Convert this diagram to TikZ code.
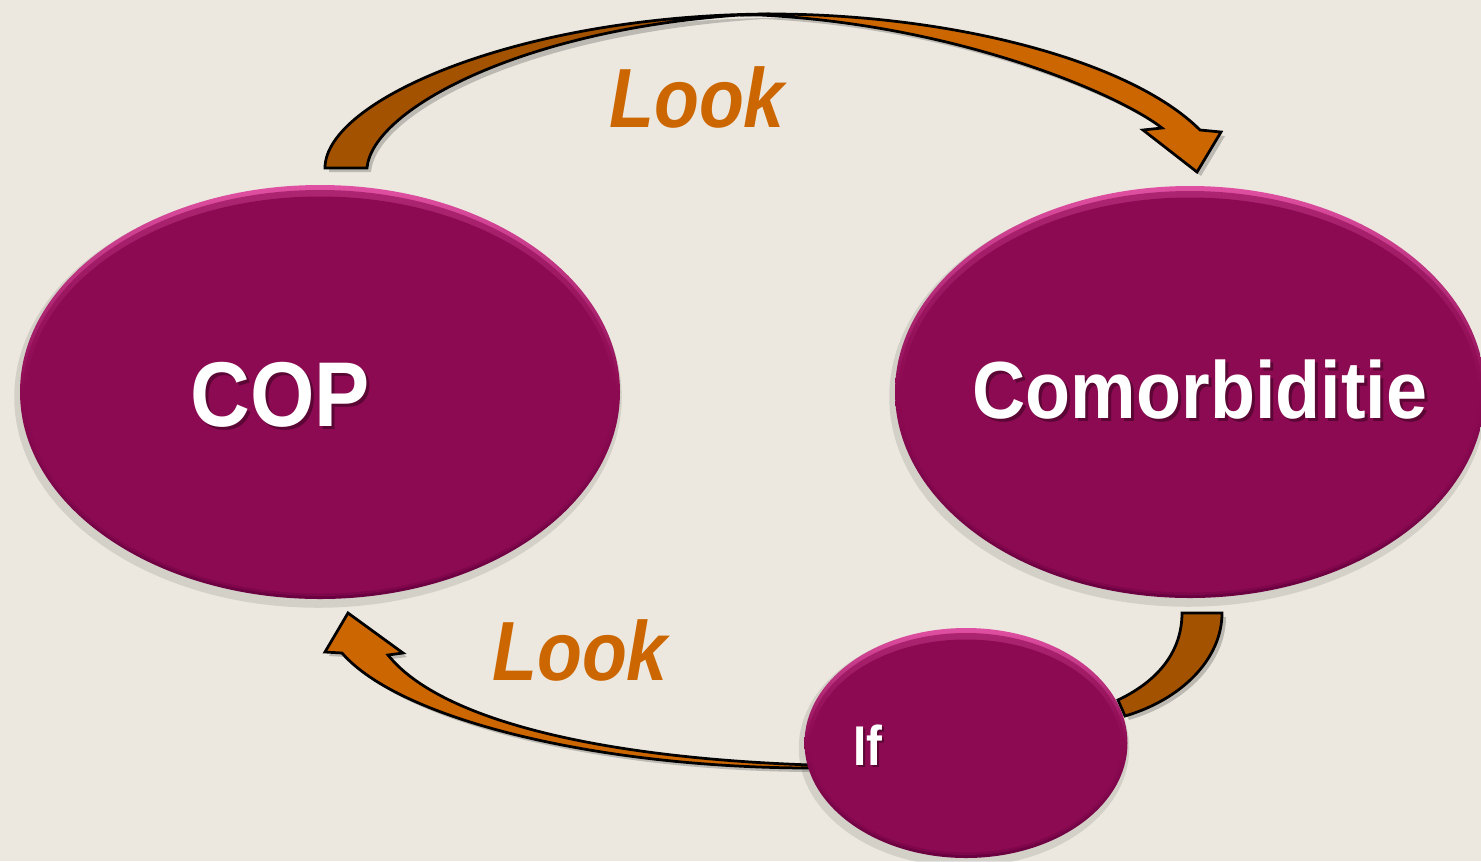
\documentclass[tikz,border=0pt]{standalone}
\usepackage{fontspec}
\setmainfont{Liberation Sans}
\usetikzlibrary{shapes.geometric}
\definecolor{bg}{HTML}{ECE8DF}
\definecolor{plum}{HTML}{8C0A52}
\definecolor{plumlight}{HTML}{E050A2}
\definecolor{plumdark}{HTML}{6A0040}
\definecolor{arrowdark}{HTML}{A35200}
\definecolor{arroworange}{HTML}{CC6600}
\tikzset{
  whitelbl/.style={text=white, inner sep=0pt},
  shadowlbl/.style={text=black, opacity=0.35, inner sep=0pt},
  looklbl/.style={text=arroworange, inner sep=0pt},
  arrowline/.style={draw=black, line width=1.1pt, line join=miter},
  arrowshadow/.style={fill=black, opacity=0.2},
}
\newcommand{\bubble}[4]{% center x, center y, rx(pt), ry(pt)
  \fill[black,opacity=0.10] (#1-2,#2+5) ellipse [x radius=#3pt+1.5pt, y radius=#4pt+1.5pt];
  \shade[top color=plumlight, bottom color=plumdark, middle color=plum] (#1,#2) ellipse [x radius=#3pt, y radius=#4pt];
  \fill[plum,opacity=0.6] (#1,#2+1) ellipse [x radius=#3pt-1.2pt, y radius=#4pt-1.6pt];
  \fill[plum] (#1,#2+3) ellipse [x radius=#3pt-2.6pt, y radius=#4pt-3.4pt];
}
\begin{document}
\begin{tikzpicture}[x=0.4pt,y=-0.4pt]
\fill[bg] (0,0) rectangle (1481,861);
\useasboundingbox (0,0) rectangle (1481,861);

% ---- top curved arrow (COP -> Comorbiditie)
\begin{scope}[shift={(4,4)}]
\fill[arrowshadow] (325,168) .. controls (325,100) and (520,15) .. (770,14)
  .. controls (950,14) and (1130,60) .. (1200,130) -- (1221,132) -- (1197,172) -- (1143,130) -- (1162,128)
  .. controls (1120,95) and (960,25) .. (760,15)
  .. controls (520,30) and (372,110) .. (367,168) -- cycle;
\end{scope}
\path[arrowline, fill=arroworange] (740,15) -- (770,14) .. controls (950,14) and (1130,60) .. (1200,130)
  -- (1221,132) -- (1197,172) -- (1143,130) -- (1162,128)
  .. controls (1120,95) and (960,25) .. (760,15) -- cycle;
\path[arrowline, fill=arrowdark] (325,168) .. controls (325,100) and (520,15) .. (770,14)
  -- (740,15) .. controls (520,30) and (372,110) .. (367,168) -- cycle;

% ---- bottom right piece (Comorbiditie -> If)
\begin{scope}[shift={(4,4)}]
\fill[arrowshadow] (1222,613) .. controls (1222,660) and (1180,700) .. (1125,716) -- (1118,700)
  .. controls (1160,680) and (1182,650) .. (1182,613) -- cycle;
\end{scope}
\path[arrowline, fill=arrowdark] (1222,613) .. controls (1222,660) and (1180,700) .. (1125,716) -- (1118,700)
  .. controls (1160,680) and (1182,650) .. (1182,613) -- cycle;

% ---- bottom left arrow (If -> COP)
\begin{scope}[shift={(4,4)}]
\fill[arrowshadow] (812,768) .. controls (600,768) and (400,720) .. (342,653) -- (325,652) -- (348,613)
  -- (403,653) -- (388,655) .. controls (440,720) and (600,758) .. (812,765) -- cycle;
\end{scope}
\path[arrowline, fill=arroworange] (812,768) .. controls (600,768) and (400,720) .. (342,653) -- (325,652) -- (348,613)
  -- (403,653) -- (388,655) .. controls (440,720) and (600,758) .. (812,765) -- cycle;

% ---- bubbles
\bubble{320}{392}{120}{82.8}
\bubble{1190}{392}{118}{82.4}
\bubble{966}{743}{64.6}{46}

% ---- labels
\node[shadowlbl, xscale=0.9, font=\fontsize{36.8pt}{40pt}\selectfont\bfseries] at (283,398) {COP};
\node[whitelbl, xscale=0.9, font=\fontsize{36.8pt}{40pt}\selectfont\bfseries] (cop) at (280,395) {COP};
\node[shadowlbl, xscale=0.91, font=\fontsize{32.4pt}{36pt}\selectfont\bfseries] at (1203,393) {Comorbiditie};
\node[whitelbl, xscale=0.91, font=\fontsize{32.4pt}{36pt}\selectfont\bfseries] (comorb) at (1200,390) {Comorbiditie};
\node[shadowlbl, xscale=0.85, font=\fontsize{22.4pt}{26pt}\selectfont\bfseries] at (870,747) {If};
\node[whitelbl, xscale=0.85, font=\fontsize{22.4pt}{26pt}\selectfont\bfseries] (ifnode) at (868,745) {If};

\node[looklbl, xscale=0.875, font=\fontsize{33.6pt}{36pt}\selectfont\bfseries\itshape] (look1) at (697,97) {Look};
\node[looklbl, xscale=0.875, font=\fontsize{33.6pt}{36pt}\selectfont\bfseries\itshape] (look2) at (580,650) {Look};
\end{tikzpicture}
\end{document}
